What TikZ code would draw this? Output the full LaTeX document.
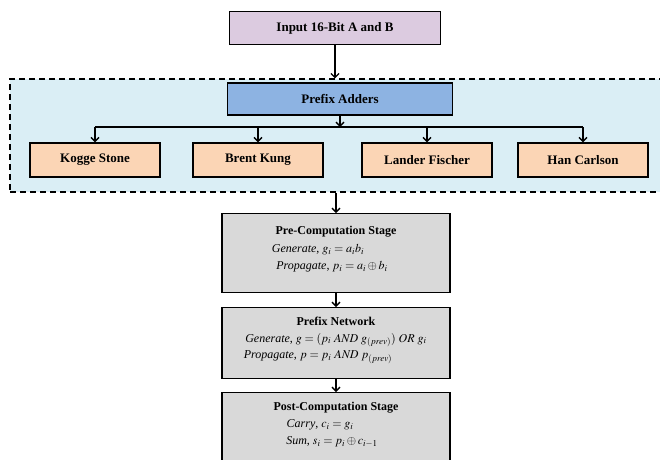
\documentclass[tikz,border=0pt]{standalone}
\usepackage{mathptmx}
\usepackage{fontspec}
\setmainfont{Liberation Serif}
\usetikzlibrary{arrows.meta}
\definecolor{inpfill}{HTML}{DCCBE0}
\definecolor{grpfill}{HTML}{DAEEF5}
\definecolor{pafill}{HTML}{8DB3E2}
\definecolor{algfill}{HTML}{FBD5B5}
\definecolor{stgfill}{HTML}{D9D9D9}

\begin{document}
\begin{tikzpicture}[x=1pt,y=-1pt,
    every node/.style={font=\fontsize{13}{15}\selectfont\bfseries},
    blk/.style={draw,line width=1.4pt,inner sep=0pt},
    alg/.style={blk,fill=algfill,minimum width=130pt,minimum height=34pt},
    stg/.style={blk,fill=stgfill,minimum width=228pt,align=center,anchor=north},
    ttl/.style={font=\fontsize{12}{14}\selectfont\bfseries},
    eqn/.style={font=\fontsize{12}{14}\selectfont},
    arr/.style={line width=1.3pt,-{Straight Barb[length=4pt,width=8pt,line width=1.3pt]}}]
      \useasboundingbox (0,0) rectangle (660,459);
      \node[draw,line width=1.3pt,dash pattern=on 6pt off 4pt,fill=grpfill,
            minimum width=656pt,minimum height=113pt,inner sep=0pt] (grp) at (338,135.5) {};
      \node[blk,fill=inpfill,minimum width=211pt,minimum height=33pt] (inp) at (335,28) {Input 16-Bit A and B};
      \node[blk,fill=pafill,minimum width=225pt,minimum height=32pt] (pa) at (340,99) {Prefix Adders};
      \node[alg] (ks) at ( 95,160) {Kogge Stone};
      \node[alg] (bk) at (258,160) {Brent Kung};
      \node[alg] (lf) at (427,160) {Lander Fischer};
      \node[alg] (hc) at (583,160) {Han Carlson};
      \coordinate (br) at (340,127);
      \node[stg,minimum height=79pt] (pre) at (336,213) {};
      \node[stg,minimum height=71pt] (pn) at (336,307) {};
      \node[stg,minimum height=85pt] (post) at (336,392) {};
      \node[ttl] (pret) at (336,232) {Pre-Computation Stage};
      \node[eqn] (pre1) at (318,250) {\textit{Generate}, $g_i = a_i b_i$};
      \node[eqn] (pre2) at (332,267) {\textit{Propagate}, $p_i = a_i \oplus b_i$};
      \node[ttl] (pnt) at (336,321) {Prefix Network};
      \node[eqn] (pn1) at (336,340) {\textit{Generate}, $g = (p_i \mathit{~AND~} g_{(prev)})\mathit{~OR~} g_i$};
      \node[eqn] (pn2) at (318,357) {\textit{Propagate}, $p = p_i \mathit{~AND~} p_{(prev)}$};
      \node[ttl] (postt) at (336,408) {Post-Computation Stage};
      \node[eqn] (post1) at (320,425) {\textit{Carry}, $c_i = g_i$};
      \node[eqn] (post2) at (332,442) {\textit{Sum}, $s_i = p_i \oplus c_{i-1}$};
      \draw[arr] (inp.south) -- (inp.south |- grp.north);
      \draw[arr] (pa.south) -- (br);
      \draw[line width=1.3pt] (ks.north |- br) -- (hc.north |- br);
      \draw[arr] (ks.north |- br) -- (ks.north);
      \draw[arr] (bk.north |- br) -- (bk.north);
      \draw[arr] (lf.north |- br) -- (lf.north);
      \draw[arr] (hc.north |- br) -- (hc.north);
      \draw[arr] (pre.north |- grp.south) -- (pre.north);
      \draw[arr] (pre.south) -- (pn.north);
      \draw[arr] (pn.south) -- (post.north);
    \end{tikzpicture}
\end{document}
